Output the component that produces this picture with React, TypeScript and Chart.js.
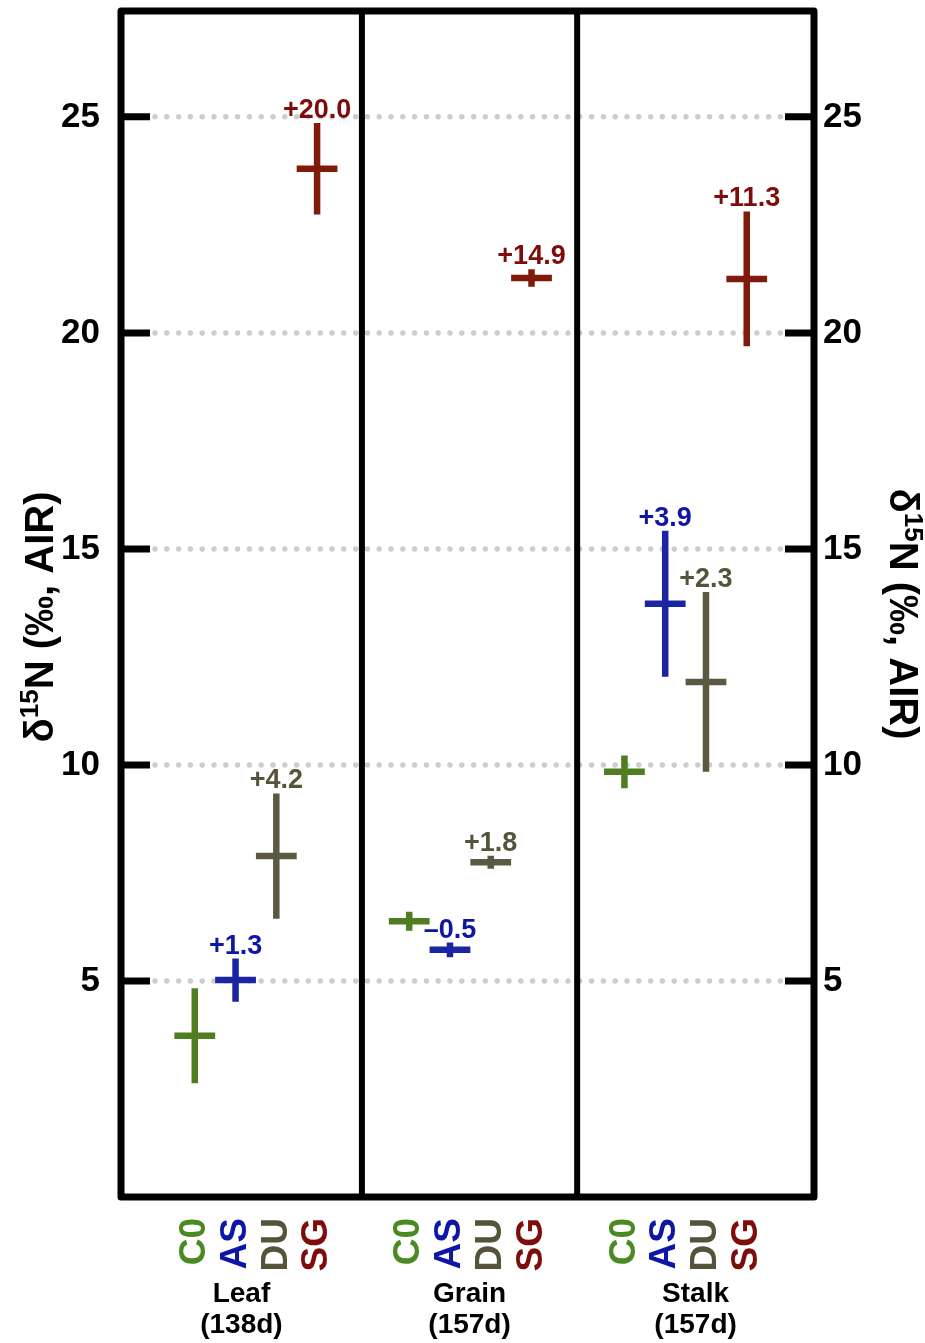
import React, { useEffect, useRef } from "react";
import { Chart, registerables } from "chart.js";

Chart.register(...registerables);

// ---------- data ----------
const organs = ["Leaf", "Grain", "Stalk"];
const organAges = ["(138d)", "(157d)", "(157d)"];
const treatments = ["C0", "AS", "DU", "SG"];
const groupCenters = [3.31, 8.57, 13.85];
const treatmentOffsets = [-1.5, -0.5, 0.5, 1.5];
const panelEdges = [0, 5.91, 11.19, 17];
const yTicks = [5, 10, 15, 20, 25];

const c0Mean = [3.73, 6.38, 9.84];
const c0Sd = [1.1, 0.22, 0.38];
const asMean = [5.02, 5.72, 13.73];
const asSd = [0.5, 0.17, 1.69];
const duMean = [7.89, 7.75, 11.92];
const duSd = [1.45, 0.15, 2.08];
const sgMean = [23.8, 21.27, 21.25];
const sgSd = [1.06, 0.2, 1.56];

const c0Labels = ["", "", ""];
const asLabels = ["+1.3", "\u20130.5", "+3.9"];
const duLabels = ["+4.2", "+1.8", "+2.3"];
const sgLabels = ["+20.0", "+14.9", "+11.3"];

const markColors = ["#4f7d1f", "#1b24a3", "#5b5941", "#801b0c"];
const textColors = ["#4b8a23", "#0e16a6", "#55533a", "#7e0c0a"];

const FONT = '"Liberation Sans", Arial, Helvetica, sans-serif';

const means = [c0Mean, asMean, duMean, sgMean];
const sds = [c0Sd, asSd, duSd, sgSd];
const valueLabels = [c0Labels, asLabels, duLabels, sgLabels];

function drawTitle(ctx: CanvasRenderingContext2D, cx: number, cy: number, angle: number) {
  const bigSize = 40;
  const big = `bold ${bigSize}px ${FONT}`;
  const small = `bold 26px ${FONT}`;
  const parts = [
    { t: "\u03b4", f: big, dy: 0 },
    { t: "15", f: small, dy: -15 },
    { t: "N (\u2030, AIR)", f: big, dy: 0 },
  ];
  let total = 0;
  const widths = parts.map((p) => {
    ctx.font = p.f;
    const w = ctx.measureText(p.t).width;
    total += w;
    return w;
  });
  ctx.save();
  ctx.translate(cx, cy);
  ctx.rotate(angle);
  ctx.fillStyle = "#000";
  ctx.textAlign = "left";
  ctx.textBaseline = "alphabetic";
  let xx = -total / 2;
  parts.forEach((p, i) => {
    ctx.font = p.f;
    ctx.fillText(p.t, xx, bigSize * 0.36 + p.dy);
    xx += widths[i];
  });
  ctx.restore();
}

const customPlugin = {
  id: "customDraw",
  beforeDatasetsDraw(chart: any) {
    const { ctx, chartArea: a, scales } = chart;
    const y = scales.y;
    ctx.save();
    ctx.strokeStyle = "#cdcdcd";
    ctx.lineWidth = 5.5;
    ctx.lineCap = "round";
    ctx.setLineDash([0, 11.8]);
    for (const t of yTicks) {
      const py = y.getPixelForValue(t);
      ctx.beginPath();
      ctx.moveTo(a.left + 34, py);
      ctx.lineTo(a.right - 30, py);
      ctx.stroke();
    }
    ctx.restore();
  },
  afterDatasetsDraw(chart: any) {
    const { ctx, chartArea: a, scales } = chart;
    const x = scales.x;
    const y = scales.y;
    ctx.save();
    // crosses with error bars
    chart.data.datasets.forEach((ds: any, k: number) => {
      ds.data.forEach((p: any, i: number) => {
        const px = x.getPixelForValue(p.x);
        const py = y.getPixelForValue(p.y);
        const top = y.getPixelForValue(p.y + ds.errors[i]);
        const bottom = y.getPixelForValue(p.y - ds.errors[i]);
        const l = x.getPixelForValue(p.x - 0.5);
        const r = x.getPixelForValue(p.x + 0.5);
        ctx.strokeStyle = ds.borderColor;
        ctx.lineWidth = 6.5;
        ctx.lineCap = "butt";
        ctx.beginPath();
        ctx.moveTo(px, top);
        ctx.lineTo(px, bottom);
        ctx.moveTo(l, py);
        ctx.lineTo(r, py);
        ctx.stroke();
        const lab = ds.valueLabels[i];
        if (lab) {
          ctx.font = `bold 27px ${FONT}`;
          ctx.fillStyle = textColors[k];
          ctx.textAlign = "center";
          ctx.textBaseline = "alphabetic";
          ctx.fillText(lab, px, top - 5);
        }
      });
    });

    // frame
    ctx.strokeStyle = "#000";
    ctx.lineJoin = "round";
    ctx.lineWidth = 7;
    ctx.strokeRect(a.left, a.top, a.right - a.left, a.bottom - a.top);
    ctx.lineWidth = 6;
    for (let i = 1; i < panelEdges.length - 1; i++) {
      const px = x.getPixelForValue(panelEdges[i]);
      ctx.beginPath();
      ctx.moveTo(px, a.top);
      ctx.lineTo(px, a.bottom);
      ctx.stroke();
    }
    // ticks
    ctx.lineWidth = 7;
    ctx.lineCap = "butt";
    for (const t of yTicks) {
      const py = y.getPixelForValue(t);
      ctx.beginPath();
      ctx.moveTo(a.left, py);
      ctx.lineTo(a.left + 29, py);
      ctx.moveTo(a.right - 29, py);
      ctx.lineTo(a.right, py);
      ctx.stroke();
    }
    // tick labels
    ctx.fillStyle = "#000";
    ctx.font = `bold 35px ${FONT}`;
    ctx.textBaseline = "middle";
    for (const t of yTicks) {
      const py = y.getPixelForValue(t);
      ctx.textAlign = "right";
      ctx.fillText(String(t), a.left - 21, py);
      ctx.textAlign = "left";
      ctx.fillText(String(t), a.right + 9, py);
    }
    // axis titles
    const midY = (a.top + a.bottom) / 2;
    drawTitle(ctx, 39, midY + 13, -Math.PI / 2);
    drawTitle(ctx, a.right + 90, midY + 10, Math.PI / 2);

    // treatment labels
    ctx.font = `bold 37px ${FONT}`;
    ctx.textBaseline = "middle";
    ctx.textAlign = "right";
    groupCenters.forEach((g) => {
      treatments.forEach((t, k) => {
        const px = x.getPixelForValue(g + treatmentOffsets[k]);
        ctx.save();
        ctx.translate(px, a.bottom + 21);
        ctx.rotate(-Math.PI / 2);
        ctx.fillStyle = textColors[k];
        ctx.fillText(t, 0, 0);
        ctx.restore();
      });
    });
    // organ labels
    ctx.fillStyle = "#000";
    ctx.font = `bold 28px ${FONT}`;
    ctx.textAlign = "center";
    ctx.textBaseline = "alphabetic";
    organs.forEach((o, i) => {
      const cx = (x.getPixelForValue(panelEdges[i]) + x.getPixelForValue(panelEdges[i + 1])) / 2;
      ctx.fillText(o, cx, a.bottom + 105);
      ctx.fillText(organAges[i], cx, a.bottom + 136);
    });
    ctx.restore();
  },
};

export default function App() {
  const ref = useRef<HTMLCanvasElement>(null);
  useEffect(() => {
    document.body.style.margin = "0";
    const datasets = treatments.map((t, k) => ({
      label: t,
      data: groupCenters.map((g, i) => ({ x: g + treatmentOffsets[k], y: means[k][i] })),
      errors: sds[k],
      valueLabels: valueLabels[k],
      borderColor: markColors[k],
      backgroundColor: markColors[k],
      pointRadius: 0,
      showLine: false,
    }));
    const chart = new Chart(ref.current as HTMLCanvasElement, {
      type: "scatter",
      data: { datasets } as any,
      options: {
        animation: false,
        responsive: false,
        devicePixelRatio: 1,
        layout: { padding: { left: 121, right: 111, top: 11, bottom: 146 } },
        plugins: { legend: { display: false }, tooltip: { enabled: false } },
        scales: {
          x: { type: "linear", min: 0, max: 17, display: false },
          y: { type: "linear", min: 0, max: 27.45, display: false },
        },
      },
      plugins: [customPlugin],
    });
    return () => chart.destroy();
  }, []);
  return (
    <canvas
      ref={ref}
      width={925}
      height={1343}
      style={{ display: "block", width: "925px", height: "1343px" }}
    />
  );
}
